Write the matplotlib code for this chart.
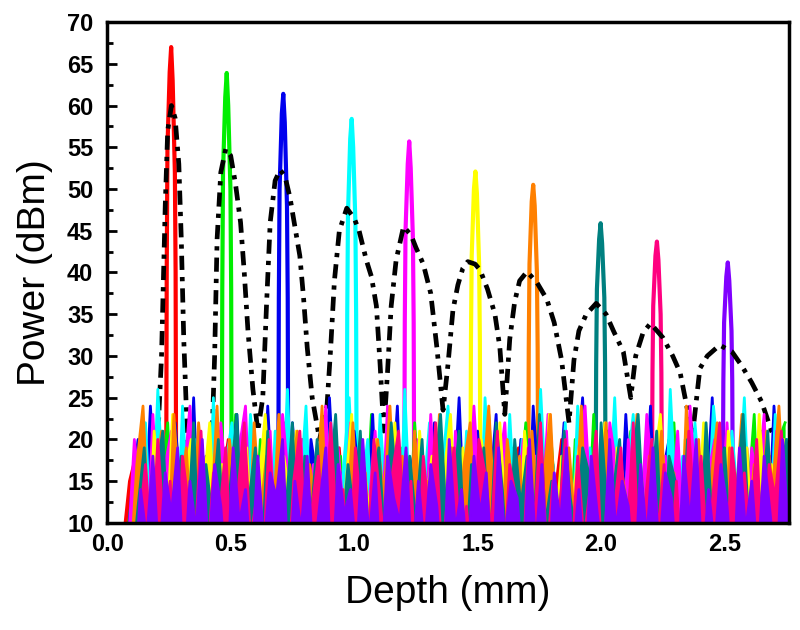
import matplotlib
matplotlib.use("Agg")
import matplotlib.pyplot as plt
import numpy as np
from matplotlib.ticker import MultipleLocator, FormatStrFormatter

plt.rcParams['font.family'] = ['Liberation Sans', 'DejaVu Sans']

# colori delle 10 tracce (stile Origin)
colors = ['#ff0000', '#00ee00', '#0000ee', '#00ffff', '#ff00ff',
          '#ffff00', '#ff8000', '#008080', '#ff0080', '#8000ff']

# posizione e altezza dei picchi (mm, dBm)
peak_depth = [0.259, 0.484, 0.713, 0.990, 1.223, 1.491, 1.725, 1.998, 2.226, 2.513]
peak_dx = [-0.02, -0.018, -0.015, -0.006, 0.0, 0.006, 0.015, 0.018, 0.02]
red_peak = [15, 40, 55, 64, 67.0, 63, 52, 40, 15]
green_peak = [15, 38, 52, 61, 63.9, 60, 50, 38, 15]
blue_peak = [15, 37, 50, 59, 61.4, 58, 48, 37, 15]
cyan_peak = [15, 35, 47, 56, 58.4, 55, 46, 35, 15]
magenta_peak = [15, 34, 45, 53, 55.7, 52.5, 44, 34, 15]
yellow_peak = [15, 32, 42, 50, 52.1, 49.5, 41, 32, 15]
orange_peak = [15, 31, 41, 48.5, 50.5, 48, 40, 31, 15]
teal_peak = [15, 29, 38, 44, 45.9, 43.5, 37, 29, 15]
pink_peak = [15, 28, 36, 42, 43.7, 41.5, 35, 28, 15]
purple_peak = [15, 27, 34, 39.5, 41.2, 39, 33, 27, 15]

# rumore di fondo, un campione ogni 0.025 mm a partire da 0.065 mm
red_noise = [8, 15, 18, 6, 19, 11, 16, 4, 21, 13, 7, 17,
             12, 3, 18, 9, 15, 20, 5, 14, 10, 19, 6, 16,
             11, 4, 18, 13, 8, 20, 5, 15, 12, 17, 3, 19,
             9, 14, 6, 18, 11, 4, 16, 20, 7, 13, 10, 18,
             5, 15, 12, 19, 3, 17, 9, 14, 6, 20, 11, 16,
             4, 18, 13, 8, 19, 5, 15, 11, 17, 3, 14, 20,
             7, 12, 16, 4, 19, 10, 15, 6, 18, 13, 5, 17,
             9, 20, 3, 14, 11, 18, 6, 16, 12, 4, 19, 8,
             15, 10, 17, 5, 13, 19, 7, 16, 3, 18, 11, 20]
green_noise = [6, 12, 17, 4, 20, 9, 15, 22, 7, 13, 18, 5,
               21, 10, 16, 3, 19, 12, 23, 8, 14, 6, 20, 11,
               17, 4, 22, 9, 13, 19, 5, 16, 21, 7, 12, 18,
               3, 20, 14, 8, 23, 10, 17, 5, 15, 19, 6, 22,
               11, 16, 4, 21, 9, 14, 18, 3, 20, 12, 7, 23,
               10, 15, 5, 19, 13, 22, 6, 17, 8, 21, 11, 14,
               4, 20, 16, 7, 23, 9, 13, 18, 5, 15, 21, 8,
               12, 19, 3, 17, 10, 22, 6, 14, 20, 9, 16, 4,
               21, 11, 15, 7, 18, 13, 23, 5, 16, 10, 20, 22]
blue_noise = [5, 14, 20, 8, 24, 11, 17, 3, 22, 13, 9, 25,
              6, 18, 12, 21, 4, 16, 23, 9, 14, 19, 5, 24,
              10, 17, 7, 22, 13, 3, 20, 15, 8, 25, 11, 16,
              4, 21, 14, 9, 23, 6, 18, 12, 24, 5, 15, 20,
              8, 13, 22, 3, 19, 11, 25, 7, 16, 21, 9, 14,
              23, 5, 17, 10, 20, 4, 24, 13, 8, 18, 12, 22,
              6, 15, 25, 9, 19, 3, 21, 14, 7, 23, 10, 17,
              12, 24, 5, 16, 20, 8, 13, 22, 4, 18, 11, 25,
              7, 19, 14, 3, 23, 10, 16, 21, 6, 24, 12, 18]
cyan_noise = [9, 4, 16, 22, 7, 26, 12, 18, 5, 24, 10, 20,
              14, 3, 25, 8, 17, 22, 11, 6, 23, 15, 19, 4,
              21, 10, 26, 7, 13, 24, 5, 18, 12, 22, 3, 16,
              25, 9, 14, 20, 6, 23, 11, 17, 4, 26, 8, 19,
              13, 22, 5, 16, 24, 10, 7, 21, 15, 3, 25, 12,
              18, 6, 23, 9, 20, 14, 4, 26, 11, 17, 8, 22,
              5, 24, 13, 19, 3, 21, 10, 25, 7, 16, 23, 12,
              8, 20, 15, 4, 26, 11, 18, 6, 22, 13, 9, 24,
              16, 3, 21, 12, 25, 7, 19, 14, 5, 23, 10, 20]
magenta_noise = [7, 20, 13, 5, 23, 10, 17, 21, 4, 15, 24, 9,
                 18, 12, 3, 22, 14, 8, 19, 24, 6, 16, 11, 21,
                 5, 23, 15, 9, 20, 4, 17, 13, 24, 7, 19, 10,
                 22, 3, 16, 12, 21, 8, 24, 14, 5, 18, 11, 20,
                 6, 23, 10, 17, 4, 21, 15, 9, 24, 12, 19, 3,
                 16, 22, 7, 13, 20, 5, 18, 11, 23, 8, 15, 21,
                 4, 19, 24, 10, 14, 6, 22, 17, 3, 20, 12, 9,
                 23, 15, 5, 18, 11, 21, 7, 24, 13, 4, 16, 20,
                 10, 22, 8, 17, 3, 19, 14, 23, 6, 21, 12, 18]
yellow_noise = [6, 11, 18, 4, 21, 13, 8, 23, 5, 16, 20, 9,
                14, 22, 7, 17, 3, 20, 12, 19, 6, 15, 23, 10,
                4, 18, 13, 21, 8, 16, 3, 22, 11, 19, 7, 14,
                23, 5, 17, 10, 20, 6, 15, 22, 9, 13, 4, 21,
                12, 18, 3, 16, 23, 8, 19, 11, 5, 20, 14, 7,
                22, 10, 15, 4, 21, 13, 17, 6, 23, 9, 18, 3,
                14, 20, 8, 16, 11, 22, 5, 19, 12, 4, 21, 15,
                7, 17, 23, 10, 13, 3, 20, 16, 8, 22, 11, 18,
                5, 21, 14, 9, 19, 6, 23, 12, 17, 4, 20, 13]
orange_noise = [5, 17, 24, 8, 15, 21, 4, 23, 12, 19, 7, 22,
                14, 10, 24, 6, 20, 13, 16, 3, 22, 11, 18, 9,
                23, 5, 15, 21, 8, 17, 12, 24, 4, 19, 14, 10,
                22, 7, 16, 3, 20, 13, 24, 9, 18, 6, 21, 11,
                15, 4, 23, 12, 19, 8, 17, 22, 5, 14, 24, 10,
                6, 20, 13, 18, 3, 21, 11, 16, 23, 7, 15, 19,
                9, 24, 4, 17, 12, 22, 6, 19, 14, 10, 23, 5,
                18, 13, 21, 8, 16, 3, 24, 11, 20, 7, 15, 22,
                4, 19, 12, 23, 9, 17, 6, 21, 14, 24, 10, 18]
teal_noise = [4, 12, 19, 6, 16, 21, 5, 14, 18, 8, 22, 3,
              17, 11, 20, 7, 15, 23, 5, 13, 19, 4, 21, 9,
              16, 12, 22, 3, 18, 10, 20, 6, 14, 23, 8, 17,
              11, 21, 4, 15, 19, 7, 22, 13, 3, 18, 10, 20,
              5, 16, 23, 9, 13, 21, 4, 17, 11, 19, 6, 22,
              14, 3, 20, 12, 18, 7, 23, 10, 15, 5, 21, 13,
              8, 19, 16, 4, 22, 11, 14, 20, 6, 17, 23, 9,
              12, 21, 3, 18, 15, 7, 20, 13, 5, 22, 10, 16,
              19, 6, 14, 23, 8, 17, 11, 21, 4, 15, 20, 12]
pink_noise = [3, 10, 17, 6, 20, 9, 15, 2, 18, 12, 7, 21,
              5, 16, 11, 19, 3, 14, 22, 8, 13, 4, 20, 10,
              17, 2, 15, 21, 7, 12, 18, 5, 22, 9, 14, 3,
              19, 11, 6, 20, 13, 4, 16, 21, 8, 15, 2, 18,
              10, 22, 5, 14, 19, 7, 12, 3, 20, 16, 9, 21,
              4, 17, 13, 2, 19, 10, 22, 6, 15, 11, 20, 5,
              18, 8, 14, 21, 3, 16, 12, 19, 7, 22, 4, 13,
              20, 9, 17, 5, 15, 2, 21, 11, 18, 6, 14, 22,
              3, 19, 12, 16, 8, 20, 4, 17, 13, 21, 7, 15]
purple_noise = [2, 14, 8, 18, 5, 16, 11, 19, 3, 15, 9, 20,
                6, 17, 12, 2, 19, 10, 14, 4, 18, 7, 16, 13,
                20, 3, 15, 9, 18, 5, 12, 19, 2, 17, 11, 14,
                6, 20, 8, 16, 3, 18, 13, 10, 19, 4, 15, 7,
                17, 12, 2, 20, 9, 14, 5, 18, 11, 16, 3, 19,
                8, 15, 13, 4, 20, 7, 17, 2, 16, 10, 19, 6,
                14, 3, 18, 11, 5, 20, 9, 15, 12, 2, 17, 8,
                19, 6, 16, 13, 3, 18, 10, 20, 4, 14, 7, 17,
                12, 2, 19, 9, 15, 5, 18, 11, 3, 20, 8, 16]

# curva teorica (tratto-punto nero)
black_depth = [0.15, 0.20, 0.22, 0.235, 0.245, 0.26, 0.275, 0.29, 0.30, 0.31,
               0.33, 0.38, 0.42, 0.435, 0.445, 0.46, 0.48, 0.50, 0.52, 0.54,
               0.555, 0.57, 0.59, 0.61, 0.63, 0.645, 0.66, 0.68, 0.70, 0.72,
               0.74, 0.76, 0.78, 0.795, 0.81, 0.83, 0.86, 0.89, 0.905, 0.92,
               0.94, 0.97, 1.00, 1.02, 1.05, 1.07, 1.09, 1.105, 1.12, 1.135,
               1.15, 1.17, 1.20, 1.23, 1.25, 1.28, 1.31, 1.335, 1.36, 1.38,
               1.40, 1.42, 1.44, 1.46, 1.49, 1.51, 1.54, 1.57, 1.59, 1.61,
               1.63, 1.65, 1.67, 1.70, 1.74, 1.78, 1.81, 1.84, 1.87, 1.89,
               1.91, 1.94, 1.98, 2.02, 2.05, 2.09, 2.12, 2.14, 2.17, 2.20,
               2.25, 2.29, 2.32, 2.37, 2.40, 2.43, 2.48, 2.53, 2.57, 2.61,
               2.65, 2.69, 2.73]
black_power = [12, 17, 30, 48, 57, 60, 58.5, 53, 44, 32,
               16, 12, 16, 30, 44, 52, 54.8, 54, 50.5, 46,
               40, 33, 26, 21, 25, 36, 46, 51, 52.3, 51.5,
               49, 45.5, 42, 37, 31, 25, 20, 24, 31, 39,
               45, 47.7, 46.5, 45, 41.4, 39.5, 36, 29, 21, 28,
               36, 41.5, 45.5, 44.5, 43, 41, 37.5, 31, 23.5, 29,
               35.5, 38.5, 40.5, 41.3, 41, 40.3, 38, 35, 31, 23,
               32, 36.5, 39, 40.1, 38.8, 36.8, 34, 29.5, 22, 29.5,
               33, 35, 36.3, 35, 33, 30.5, 25, 30, 32.8, 33.9,
               32.2, 30, 28, 20.5, 28.5, 30, 31.3, 30.5, 28.8, 26.8,
               24.5, 21, 19]

peaks = [red_peak, green_peak, blue_peak, cyan_peak, magenta_peak,
         yellow_peak, orange_peak, teal_peak, pink_peak, purple_peak]
noises = [red_noise, green_noise, blue_noise, cyan_noise, magenta_noise,
          yellow_noise, orange_noise, teal_noise, pink_noise, purple_noise]

f1 = plt.figure(figsize=(8, 6.3), dpi=100)
ax1 = f1.add_axes([0.134, 0.170, 0.852, 0.795])

for k in range(10):
    px = peak_depth[k] + np.array(peak_dx)
    ax1.plot(px, peaks[k], '-', color=colors[k], lw=3.0, zorder=2)

# nero sopra i picchi ma sotto il rumore
ax1.plot(black_depth, black_power, color='black', lw=3.4,
         linestyle=(0, (3, 1.5, 0.9, 1.5)), zorder=3)

# rumore: tracce dense, le ultime coprono il fondo
for k in range(10):
    nx = 0.065 + 0.025 * np.arange(len(noises[k])) + 0.005 * k
    ax1.fill_between(nx, 0, noises[k], color=colors[k], lw=0, zorder=4)
    ax1.plot(nx, noises[k], '-', color=colors[k], lw=2.0, zorder=4)

ax1.set_xlim(0, 2.76)
ax1.set_ylim(10, 70)
ax1.xaxis.set_major_locator(MultipleLocator(0.5))
ax1.yaxis.set_major_locator(MultipleLocator(5))
ax1.yaxis.set_minor_locator(MultipleLocator(2.5))
ax1.xaxis.set_major_formatter(FormatStrFormatter('%.1f'))

ax1.tick_params(axis='both', which='both', direction='in', top=False, right=False)
ax1.tick_params(axis='y', which='major', length=7, width=2, pad=10)
ax1.tick_params(axis='y', which='minor', length=4, width=2)
ax1.tick_params(axis='x', which='major', length=7, width=2, pad=7)
for lab in ax1.get_xticklabels() + ax1.get_yticklabels():
    lab.set_fontsize(17)
    lab.set_fontweight('bold')
for sp in ax1.spines.values():
    sp.set_linewidth(2.5)
    sp.set_zorder(6)

ax1.set_xlabel('Depth (mm)', fontsize=28, labelpad=14)
ax1.set_ylabel('Power (dBm)', fontsize=28, labelpad=10)

f1.savefig('out.png', dpi=100)
